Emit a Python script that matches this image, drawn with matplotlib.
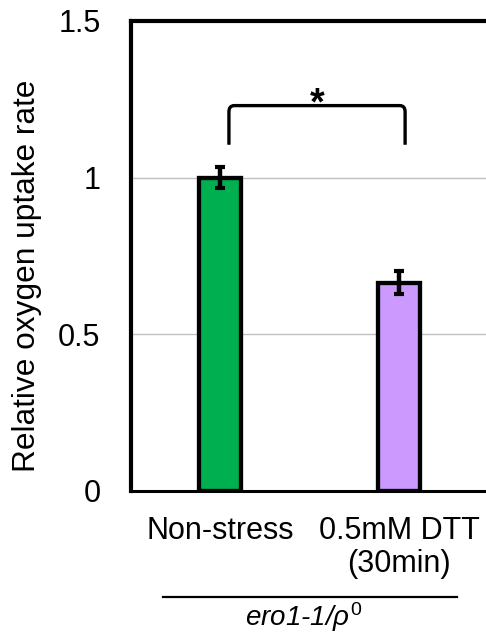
import matplotlib
matplotlib.use("Agg")
import matplotlib.pyplot as plt
from matplotlib.path import Path
from matplotlib.patches import PathPatch

plt.rcParams['font.family'] = ['Liberation Sans', 'DejaVu Sans']
plt.rcParams['mathtext.fontset'] = 'custom'
plt.rcParams['mathtext.it'] = 'Liberation Sans:italic'
plt.rcParams['mathtext.rm'] = 'Liberation Sans'

# Data
categories = ["Non-stress", "0.5mM DTT\n(30min)"]
values = [1.0, 0.665]
errors = [0.034, 0.037]
colors = ["#00b050", "#cc99ff"]
yticks = [0, 0.5, 1, 1.5]
ytick_labels = ["0", "0.5", "1", "1.5"]
group_label = r"ero1-1/$\mathit{\rho^{0}}$"

W, H = 486, 636
fig = plt.figure(figsize=(W / 100, H / 100), dpi=100)

left, right, top, bottom = 131, 500, 21, 491
ax = fig.add_axes([left / W, 1 - bottom / H, (right - left) / W, (bottom - top) / H])

x = [0, 1]
ax.set_xlim(-0.497, 1.564)
ax.set_ylim(0, 1.5)

ax.yaxis.grid(True, color="#bfbfbf", linewidth=1.0)
ax.set_axisbelow(True)

ax.bar(x, values, width=0.232, color=colors, edgecolor="black", linewidth=3.1, zorder=3)
ax.errorbar(x, values, yerr=errors, fmt="none", ecolor="black",
            elinewidth=3.2, capsize=3.6, capthick=3.0, zorder=4)

# Significance bracket with rounded shoulders
x0, x1 = 0.05, 1.034
yb, yt = 1.105, 1.23
rx, ry = 0.03, 0.02
verts = [(x0, yb), (x0, yt - ry), (x0, yt), (x0 + rx, yt),
         (x1 - rx, yt), (x1, yt), (x1, yt - ry), (x1, yb)]
codes = [Path.MOVETO, Path.LINETO, Path.CURVE3, Path.CURVE3,
         Path.LINETO, Path.CURVE3, Path.CURVE3, Path.LINETO]
ax.add_patch(PathPatch(Path(verts, codes), fill=False, edgecolor="black",
                       linewidth=2.4, zorder=5))
ax.text((x0 + x1) / 2, 1.203, "*", ha="center", va="baseline",
        fontsize=27, fontweight="bold", zorder=5)

ax.set_xticks(x)
ax.set_xticklabels(categories, fontsize=22, linespacing=1.15)
ax.set_yticks(yticks)
ax.set_yticklabels(ytick_labels, fontsize=22)
ax.tick_params(axis="both", length=0, colors="black")
ax.tick_params(axis="x", pad=18)
ax.tick_params(axis="y", pad=22)

for side in ["left", "top"]:
    ax.spines[side].set_linewidth(3.0)
ax.spines["bottom"].set_linewidth(2.2)
ax.spines["right"].set_visible(False)

fig.text(27 / W, 1 - 276 / H, "Relative oxygen uptake rate", rotation=90,
         ha="center", va="center", fontsize=22.8)

# Genotype bracket beneath the category labels
fig.add_artist(plt.Line2D([163 / W, 457 / W], [1 - 597 / H, 1 - 597 / H],
                          color="black", linewidth=1.6))
fig.text(304 / W, 1 - 617 / H, group_label, ha="center", va="center",
         fontsize=20, style="italic")

fig.savefig("out.png", dpi=100)
